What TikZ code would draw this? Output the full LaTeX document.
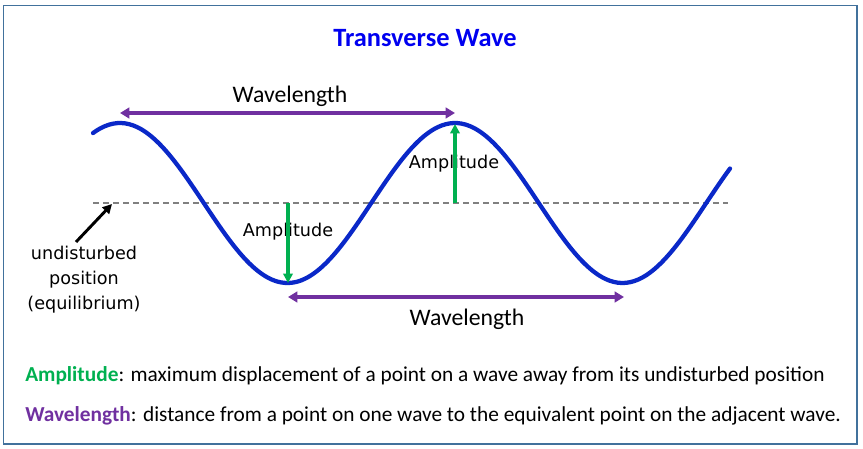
\documentclass[tikz,border=0pt]{standalone}
\usepackage{fontspec}
\setmainfont{Carlito}
\newfontfamily\dejavu{DejaVu Sans}
\usetikzlibrary{arrows.meta}
\definecolor{wavblue}{RGB}{10,40,200}
\definecolor{titleblue}{RGB}{0,0,240}
\definecolor{ampgreen}{RGB}{0,176,80}
\definecolor{wlpurple}{RGB}{112,48,160}
\definecolor{framecol}{RGB}{65,113,156}
\definecolor{dashgray}{RGB}{128,128,128}
\tikzset{
  wl/.style={draw=wlpurple, line width=2.6pt, {Triangle[length=7pt,width=8pt]}-{Triangle[length=7pt,width=8pt]}},
  amp/.style={draw=ampgreen, line width=2.3pt, -{Triangle[length=7pt,width=7pt]}},
  lab/.style={font=\fontsize{17.8}{20}\selectfont, inner sep=0pt},
  alab/.style={font=\dejavu\fontsize{13.2}{16}\selectfont, inner sep=0pt},
  desc/.style={font=\fontsize{16}{19}\selectfont, inner sep=0pt, anchor=west},
}
\begin{document}
\begin{tikzpicture}[x=0.75pt,y=-0.75pt]
\useasboundingbox (0,0) rectangle (863,449);
\draw[framecol, line width=1pt] (3.5,5.5) rectangle (857,444);
\node[font=\bfseries\fontsize{19.8}{24}\selectfont, text=titleblue, inner sep=0pt] (title) at (425,38) {Transverse Wave};
% equilibrium line
\coordinate (eqL) at (93,203);
\coordinate (eqR) at (728,203);
\draw[dashgray, line width=1.5pt, dash pattern=on 4.5pt off 3pt] (eqL) -- (eqR);
% wave
\draw[wavblue, line width=3.2pt, line cap=round] plot[domain=93:730, samples=160, smooth] (\x, {203-80*cos(1.074627*(\x-120))});
% points
\coordinate (p1) at (120,113);
\coordinate (p2) at (455,113);
\coordinate (t1) at (288,297);
\coordinate (t2) at (624,297);
\coordinate (crest) at (455,124);
\coordinate (crestbase) at (455,203);
\coordinate (trough) at (288,283);
\coordinate (troughbase) at (288,203);
% wavelength arrows
\draw[wl] (p1) -- (p2);
\node[lab] (wl1) at (290,96) {Wavelength};
\draw[wl] (t1) -- (t2);
\node[lab] (wl2) at (467,319) {Wavelength};
% amplitude
\node[alab] (amp1) at (288,232) {Amplitude};
\draw[amp] (troughbase) -- (trough);
\node[alab] (amp2) at (454,164) {Amplitude};
\draw[amp] (crestbase) -- (crest);
% equilibrium label
\node[alab, align=center, font=\dejavu\fontsize{13.2}{18.75}\selectfont] (eqlab) at (84,280) {undisturbed\\position\\(equilibrium)};
\coordinate (eqtail) at (76,242);
\coordinate (eqhead) at (112,204);
\draw[black, line width=2.2pt, -{Triangle[length=7pt,width=7pt]}] (eqtail) -- (eqhead);
% descriptions
\node[desc] (d1) at (25,376) {\textbf{\color{ampgreen}Amplitude}: maximum displacement of a point on a wave away from its undisturbed position};
\node[desc] (d2) at (25,416) {\textbf{\color{wlpurple}Wavelength}: distance from a point on one wave to the equivalent point on the adjacent wave.};
\end{tikzpicture}
\end{document}
